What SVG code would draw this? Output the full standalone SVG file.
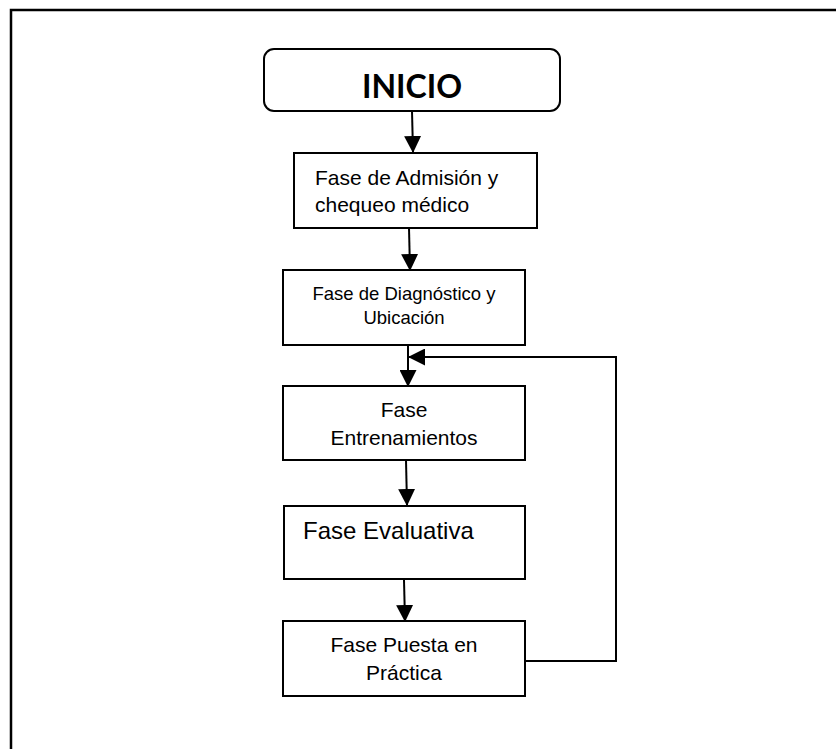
<svg xmlns="http://www.w3.org/2000/svg" width="836" height="749" viewBox="0 0 836 749">
<style>
.box{fill:#fff;stroke:#000;stroke-width:2}
.t{font-family:"Liberation Sans",Arial,sans-serif;fill:#000}
.c{stroke:#000;stroke-width:2;fill:none}
</style>
<defs>
<marker id="ah2" markerWidth="17" markerHeight="17" refX="16" refY="8.5" orient="auto" markerUnits="userSpaceOnUse" viewBox="0 0 17 17">
<path d="M0,0 L17,8.5 L0,17 Z" fill="#000"/>
</marker>
</defs>
<rect width="836" height="749" fill="#fff"/>
<path d="M11,749 V10 H836" fill="none" stroke="#000" stroke-width="2.5"/>
<g id="connectors">
<line class="c" x1="412" y1="111" x2="413" y2="152" marker-end="url(#ah2)"/>
<line class="c" x1="409" y1="228" x2="410" y2="270" marker-end="url(#ah2)"/>
<line class="c" x1="408" y1="345" x2="408" y2="386" marker-end="url(#ah2)"/>
<line class="c" x1="406" y1="460" x2="407" y2="505" marker-end="url(#ah2)"/>
<line class="c" x1="404" y1="580" x2="405" y2="621" marker-end="url(#ah2)"/>
<polyline class="c" points="525,661 616,661 616,357 409,357" marker-end="url(#ah2)"/>
</g>
<g id="inicio">
<rect class="box" x="264" y="49" width="296" height="62" rx="10"/>
<text x="412" y="98" text-anchor="middle" style="font-family:Lato,'Liberation Sans',sans-serif;font-weight:bold;font-size:32px">INICIO</text>
</g>
<g id="admision">
<rect class="box" x="294" y="153" width="243" height="75"/>
<text class="t" x="315" y="185" font-size="21">Fase de Admisión y</text>
<text class="t" x="315" y="212" font-size="21">chequeo médico</text>
</g>
<g id="diagnostico">
<rect class="box" x="283" y="270" width="242" height="75"/>
<text class="t" x="404" y="300" font-size="18.5" text-anchor="middle">Fase de Diagnóstico y</text>
<text class="t" x="404" y="324" font-size="18.5" text-anchor="middle">Ubicación</text>
</g>
<g id="entrenamientos">
<rect class="box" x="283" y="386" width="242" height="74"/>
<text class="t" x="404" y="417" font-size="21" text-anchor="middle">Fase</text>
<text class="t" x="404" y="445" font-size="21" text-anchor="middle">Entrenamientos</text>
</g>
<g id="evaluativa">
<rect class="box" x="284" y="506" width="241" height="73"/>
<text class="t" x="303" y="539" font-size="24">Fase Evaluativa</text>
</g>
<g id="practica">
<rect class="box" x="283" y="621" width="242" height="75"/>
<text class="t" x="404" y="652" font-size="21" text-anchor="middle">Fase Puesta en</text>
<text class="t" x="404" y="680" font-size="21" text-anchor="middle">Práctica</text>
</g>
</svg>
